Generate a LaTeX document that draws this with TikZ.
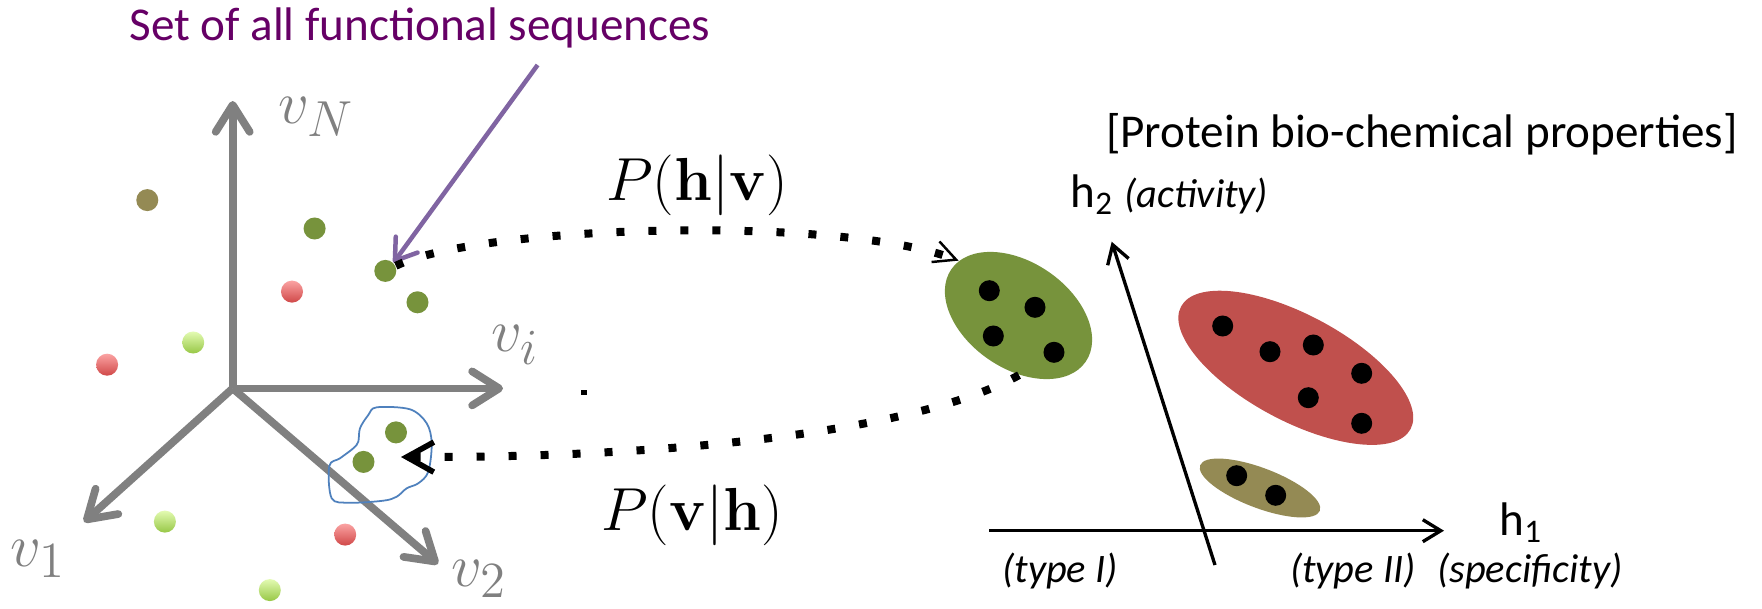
\documentclass[tikz,border=0pt]{standalone}
\usepackage[no-math]{fontspec}
\setmainfont{Carlito}
\usepackage{xcolor}
\definecolor{axisGray}{HTML}{808080}
\definecolor{leafGreen}{HTML}{77933C}
\definecolor{olive}{HTML}{948A54}
\definecolor{brick}{HTML}{C0504D}
\definecolor{lavender}{HTML}{8064A2}
\definecolor{plum}{HTML}{660066}
\definecolor{steelBlue}{HTML}{4F81BD}
\definecolor{roseTop}{HTML}{FBA3A3}
\definecolor{roseBot}{HTML}{D04848}
\definecolor{limeTop}{HTML}{E3FBB2}
\definecolor{limeBot}{HTML}{97C746}
\usepackage{tikz}
\usetikzlibrary{arrows.meta, shapes.geometric}

\begin{document}
\begin{tikzpicture}[
  x=0.01cm, y=-0.01cm,
  seqDot/.style={circle, inner sep=0pt, minimum size=0.22cm},
  fnDot/.style={seqDot, fill=leafGreen},
  oliveDot/.style={seqDot, fill=olive},
  redDot/.style={seqDot, top color=roseTop, bottom color=roseBot},
  limeDot/.style={seqDot, top color=limeTop, bottom color=limeBot},
  hDot/.style={circle, fill=black, inner sep=0pt, minimum size=0.21cm},
  cluster/.style={ellipse, inner sep=0pt, fill=#1},
  axis/.style={axisGray, line width=0.077cm, -{Straight Barb[round, length=0.27cm, width=0.34cm]}},
  hAxis/.style={black, line width=0.95pt, -{Straight Barb[length=0.18cm, width=0.22cm]}},
  linkDots/.style={line width=0.08cm, dash pattern=on 0.08cm off 0.24cm},
  vLabel/.style={text=axisGray, font=\fontsize{19}{22}\selectfont, inner sep=0pt},
  probLabel/.style={font=\fontsize{16}{19}\selectfont, inner sep=0pt},
  bodyText/.style={font=\fontsize{13.4}{16}\selectfont, inner sep=0pt},
  noteText/.style={font=\fontsize{11.5}{14}\selectfont\itshape, inner sep=0pt},
]
\useasboundingbox[fill=white] (0,0) rectangle (1762,609);

% ------------------- Sequence space (left) -------------------
\node[bodyText, text=plum, anchor=base] (setTitle) at (420,41) {Set of all functional sequences};

\coordinate (origin) at (232.7,388.4);
\coordinate (tipN) at (232.7,101);
\coordinate (tipI) at (503,388.4);
\coordinate (tipOne) at (84,522);
\coordinate (tipTwo) at (438,564);
\draw[axis] (origin) -- (tipN);
\draw[axis] (origin) -- (tipI);
\draw[axis] (origin) -- (tipOne);
\draw[axis] (origin) -- (tipTwo);

\node[vLabel] (labN) at (316,117) {$v_N$};
\node[vLabel] (labI) at (515,345) {$v_i$};
\node[vLabel] (labOne) at (38,559) {$v_1$};
\node[vLabel] (labTwo) at (479,579) {$v_2$};

% sequences scattered in the space
\node[oliveDot] (dotOlive) at (147.3,200.1) {};
\node[fnDot] (fnA) at (314.6,228.5) {};
\node[fnDot] (fnB) at (385.3,270.9) {};
\node[fnDot] (fnC) at (417.5,302.3) {};
\node[redDot] (nfA) at (292,291.6) {};
\node[limeDot] (limeA) at (193.2,342.5) {};
\node[redDot] (nfB) at (107.1,364.7) {};
\node[limeDot] (limeB) at (164.9,521.6) {};
\node[redDot] (nfC) at (345.2,534.6) {};
\node[limeDot] (limeC) at (269.8,590.1) {};

% sampled region
\draw[steelBlue, line width=0.5pt] plot[smooth cycle, tension=0.55] coordinates {
  (368.3,415) (376.7,407.3) (410,409.3) (426.7,423.3) (431.7,443.3)
  (428.3,471.7) (418.3,483.3) (406.7,488.3) (396.7,496.7) (383.3,500.7)
  (350,502.7) (331.7,498.3) (329.3,466) (340,458.3) (353.3,448.3)
  (358.3,441.7) (360,428.3)};
\node[fnDot] (fnD) at (396,432.4) {};
\node[fnDot] (fnE) at (363.5,461.9) {};
\coordinate (sampleTip) at (401,457);

% pointer from the title
\coordinate (ptrStart) at (537.6,65);
\draw[lavender, line width=0.045cm, -{Straight Barb[round, length=0.2cm, width=0.27cm]}] (ptrStart) -- (fnB.north east);

% ------------------- Hidden space (right) -------------------
\node[bodyText, anchor=base] (propTitle) at (1422,147) {[Protein bio-chemical properties]};

\coordinate (hOrigin) at (989,530.7);
\coordinate (hTipOne) at (1444,530.7);
\coordinate (hBase) at (1215,565);
\coordinate (hTipTwo) at (1111.7,241.7);
\draw[hAxis] (hOrigin) -- (hTipOne);
\draw[hAxis] (hBase) -- (hTipTwo);

\node[bodyText, anchor=base west] (labHTwo) at (1070,207) {h\textsubscript{2} {\fontsize{11.5}{14}\selectfont\itshape (activity)}};
\node[bodyText, anchor=base west] (labHOne) at (1499,535) {h\textsubscript{1}};
\node[noteText, anchor=base] (typeOne) at (1060,582) {(type I)};
\node[noteText, anchor=base] (typeTwo) at (1353,582) {(type II)};
\node[noteText, anchor=base] (specif) at (1530,582) {(specificity)};

% clusters of hidden units
\node[cluster=leafGreen, minimum width=1.63cm, minimum height=1.06cm, rotate=-34.5] (grnCluster) at (1018.5,315.5) {};
\node[cluster=brick, minimum width=2.6cm, minimum height=1.06cm, rotate=-28.1] (redCluster) at (1295.8,367.8) {};
\node[cluster=olive, minimum width=1.28cm, minimum height=0.4cm, rotate=-20.8] (oliveCluster) at (1260,488) {};

\node[hDot] (gA) at (989.3,290.7) {};
\node[hDot] (gB) at (1035,307.3) {};
\node[hDot] (gC) at (993.3,336) {};
\node[hDot] (gD) at (1054,352.3) {};

\node[hDot] (rA) at (1222.7,326) {};
\node[hDot] (rB) at (1270,351.7) {};
\node[hDot] (rC) at (1313.3,345) {};
\node[hDot] (rD) at (1361.7,373.3) {};
\node[hDot] (rE) at (1308.3,397.7) {};
\node[hDot] (rF) at (1361.7,423.3) {};

\node[hDot] (oA) at (1236.7,475.7) {};
\node[hDot] (oB) at (1275.7,495.3) {};

% ------------------- Mappings between the spaces -------------------
\draw[linkDots, -{Straight Barb[line width=0.7pt, length=0.22cm, width=0.22cm]}]
  (fnB) .. controls (480,225) and (840,215) .. (grnCluster.172);
\draw[linkDots, -{Straight Barb[line width=1.6pt, length=0.27cm, width=0.3cm]}]
  (grnCluster.-55) .. controls (920,430) and (680,458) .. (sampleTip);
\fill (581,390) rectangle (587,395);

\node[probLabel] (pHV) at (697,185) {$P(\mathbf{h}|\mathbf{v})$};
\node[probLabel] (pVH) at (692,515) {$P(\mathbf{v}|\mathbf{h})$};

\end{tikzpicture}
\end{document}
